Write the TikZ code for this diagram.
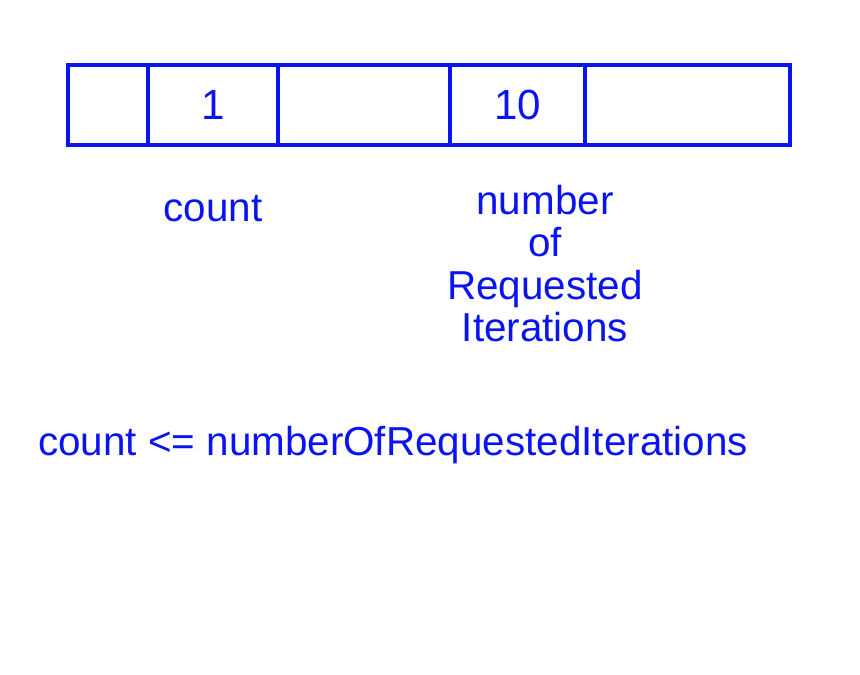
\documentclass[tikz,border=0pt]{standalone}
\usepackage{fontspec}
\setmainfont{Liberation Sans}
\usetikzlibrary{positioning}
\definecolor{pen}{RGB}{10,20,240}

\begin{document}
\begin{tikzpicture}[
    x=0.02cm, y=-0.02cm,
    % Styles
    cell/.style={
        rectangle,
        draw=pen,
        line width=2pt,
        minimum height=1.6cm,
        inner sep=0pt,
        font=\fontsize{24}{26}\selectfont,
        text=pen
    },
    handtext/.style={
        text=pen,
        align=center,
        font=\fontsize{23}{24}\selectfont
    }
]
\useasboundingbox (0,0) rectangle (860,675);

% The array
\node[cell, minimum width=1.6cm] (cellA) at (108,105) {};
\node[cell, minimum width=2.6cm] (cellB) at (213,105) {1};
\node[cell, minimum width=3.44cm] (cellC) at (364,105) {};
\node[cell, minimum width=2.7cm] (cellD) at (517.5,105) {10};
\node[cell, minimum width=4.1cm] (cellE) at (687.5,105) {};

% Labels
\node[handtext, below=0.85cm of cellB] (countlbl) {count};
\node[handtext, below=0.65cm of cellD, xshift=0.55cm] (iterlbl) {number\\of\\Requested\\Iterations};

% Condition
\node[handtext] (cond) at (393,445) {count <= numberOfRequestedIterations};

\end{tikzpicture}
\end{document}
